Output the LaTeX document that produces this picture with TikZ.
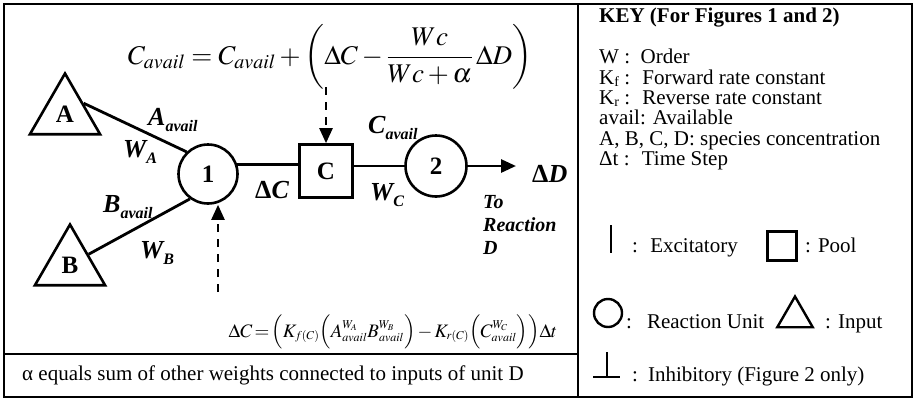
\documentclass[tikz,border=0pt]{standalone}
\usepackage{amsmath}
\usepackage{mathptmx}
\usepackage[no-math]{fontspec}
\setmainfont{Liberation Serif}
\usepackage{tikz}
\usetikzlibrary{arrows.meta, positioning, shapes.geometric, calc}
\DeclareMathSizes{19}{19}{12}{9}
\newcommand{\bisub}[2]{\textbf{\textit{#1}}\raisebox{-0.25em}{\fontsize{16}{16}\selectfont\textbf{\textit{#2}}}}
\newcommand{\keysub}[1]{\raisebox{-0.1em}{\fontsize{14}{14}\selectfont #1}}

\begin{document}
\begin{tikzpicture}[
    x=1pt, y=-1pt,
    >={Triangle[length=15pt, width=13pt]},
    unitnode/.style={circle, draw, line width=2.6pt, minimum size=59pt, inner sep=0pt, font=\fontsize{25}{25}\selectfont\bfseries},
    poolnode/.style={rectangle, draw, line width=2.6pt, minimum size=53pt, inner sep=0pt, font=\fontsize{25}{25}\selectfont\bfseries},
    inputnode/.style={regular polygon, regular polygon sides=3, draw, line width=2.6pt, minimum size=81pt, inner sep=0pt, font=\fontsize{25}{25}\selectfont\bfseries},
    lab/.style={anchor=base west, inner sep=0pt, font=\fontsize{26}{26}\selectfont\bfseries\itshape},
    keytext/.style={anchor=base west, inner sep=0pt, font=\fontsize{21}{21}\selectfont},
    keyglyph/.style={draw, line width=2.4pt, inner sep=0pt},
    link/.style={line width=2.8pt},
    dashlink/.style={line width=2.4pt, dash pattern=on 8pt off 7pt, ->},
    panel/.style={line width=2pt},
]
    \useasboundingbox (0,0) rectangle (915,402);

    % panels
    \draw[panel] (4,4) rectangle (578,397);
    \draw[panel] (578,4) rectangle (912,397);
    \draw[panel] (4,354) -- (578,354);

    % reaction network
    \node[inputnode] (inA) at (65,114) {A};
    \node[inputnode] (inB) at (70,265) {B};
    \node[unitnode] (n1) at (208,174) {1};
    \node[poolnode] (C) at (326,171) {C};
    \node[unitnode, minimum size=61pt] (n2) at (436,166) {2};
    \coordinate (tipD) at (516,166);
    \coordinate (upC) at (326,87);
    \coordinate (lowE) at (218,292);

    \draw[link] (inA.side 3) -- (n1.134);
    \draw[link] (inB.side 3) -- (n1.234);
    \draw[link] (n1.18) -- (n1.18 -| C.west);
    \draw[link] (C.east |- n2) -- (n2);
    \draw[link, ->] (n2) -- (tipD);
    \draw[dashlink] (upC) -- (C.north);
    \draw[dashlink] (lowE) -- (lowE |- n1.south);

    \node[lab] (aAvail) at (148,125) {\bisub{A}{avail}};
    \node[lab] (wA) at (123,157) {\bisub{W}{A}};
    \node[lab] (bAvail) at (103,212) {\bisub{B}{avail}};
    \node[lab] (wB) at (140,258) {\bisub{W}{B}};
    \node[lab] (dC) at (255,198) {\textup{Δ}\textit{C}};
    \node[lab] (cAvail) at (368,133) {\bisub{C}{avail}};
    \node[lab] (wC) at (370,200) {\bisub{W}{C}};
    \node[lab] (dD) at (532,182) {\textup{Δ}\textit{D}};
    \node[anchor=north west, inner sep=0pt, align=left, font=\fontsize{20}{23}\selectfont\bfseries\itshape] (toD) at (483,195) {To\\Reaction\\D};

    % update equations
    \node[anchor=base, inner sep=0pt, font=\fontsize{27}{30}\selectfont] (topeq) at (330,64)
        {$C_{avail} = C_{avail} + \left(\Delta C - \dfrac{Wc}{Wc+\alpha}\,\Delta D\right)$};
    \node[anchor=base, inner sep=0pt, font=\fontsize{19}{22}\selectfont] (boteq) at (393,337)
        {$\thickmuskip=2mu \medmuskip=2mu \Delta C = \Big(K_{f(C)}\Big(A^{W_A}_{avail}B^{W_B}_{avail}\Big) - K_{r(C)}\Big(C^{W_C}_{avail}\Big)\Big)\Delta t$};

    \node[keytext] (alphanote) at (22,380) {α equals sum of other weights connected to inputs of unit D};

    % key
    \node[keytext, font=\fontsize{21}{21}\selectfont\bfseries] (keyhead) at (599,22) {KEY (For Figures 1 and 2)};
    \node[keytext] (kW) at (599,63) {W : ~Order};
    \node[keytext] (kKf) at (599,84) {K\keysub{f} : ~Forward rate constant};
    \node[keytext] (kKr) at (599,104) {K\keysub{r} : ~Reverse rate constant};
    \node[keytext] (kAv) at (599,124) {avail: Available};
    \node[keytext] (kAB) at (599,145) {A, B, C, D: species concentration};
    \node[keytext] (kDt) at (599,165) {Δt : ~Time Step};

    \draw[line width=2.6pt] (611,225) -- (611,253);
    \node[keytext] (kExc) at (632,252) {: ~Excitatory};
    \node[keyglyph, rectangle, minimum size=29pt] (kPoolBox) at (782,246) {};
    \node[keytext] (kPool) at (805,252) {: Pool};
    \node[keyglyph, circle, minimum size=28pt] (kUnitC) at (608,313) {};
    \node[keytext] (kUnit) at (626,328) {:\hspace{15pt}Reaction Unit};
    \node[keyglyph, regular polygon, regular polygon sides=3, minimum size=41pt] (kInTri) at (795,317) {};
    \node[keytext] (kIn) at (825,328) {: Input};
    \draw[line width=2.6pt] (607,352) -- (607,377);
    \draw[line width=2.6pt] (593,377) -- (620,377);
    \node[keytext] (kInh) at (632,381) {:\hspace{10pt}Inhibitory (Figure 2 only)};
\end{tikzpicture}
\end{document}
